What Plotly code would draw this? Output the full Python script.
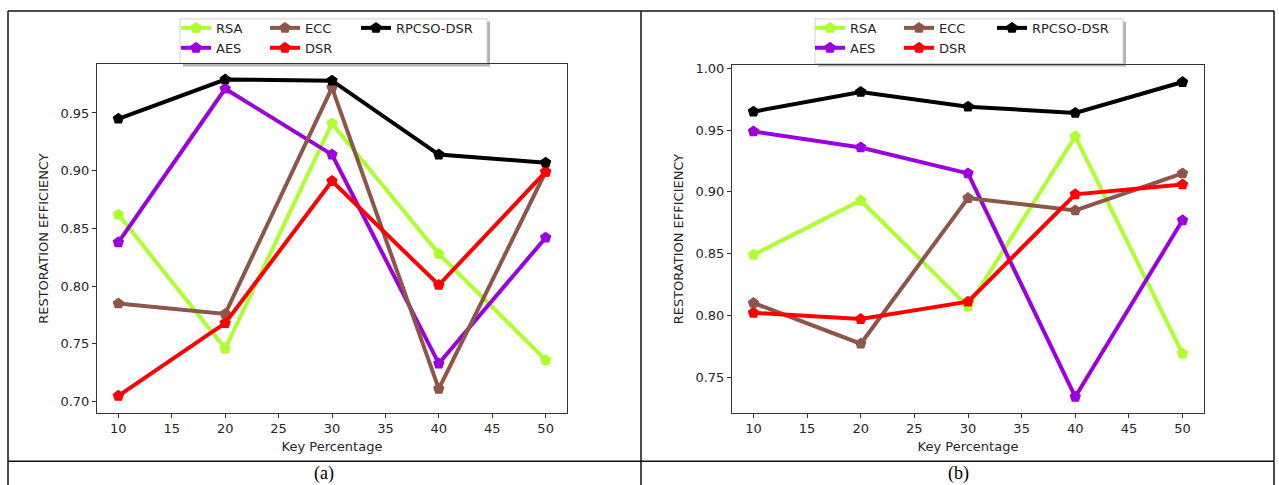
import plotly.graph_objects as go

W, H = 1279, 485

key_pct = [10, 20, 30, 40, 50]
series_names = ["RSA", "AES", "ECC", "DSR", "RPCSO-DSR"]

# Panel (a)
a_rsa = [0.862, 0.746, 0.941, 0.828, 0.736]
a_aes = [0.838, 0.971, 0.914, 0.733, 0.842]
a_ecc = [0.785, 0.776, 0.972, 0.711, 0.899]
a_dsr = [0.705, 0.768, 0.891, 0.801, 0.899]
a_rpcso = [0.945, 0.979, 0.978, 0.914, 0.907]

# Panel (b)
b_rsa = [0.849, 0.893, 0.807, 0.945, 0.769]
b_aes = [0.949, 0.936, 0.915, 0.734, 0.877]
b_ecc = [0.810, 0.777, 0.895, 0.885, 0.915]
b_dsr = [0.802, 0.797, 0.811, 0.898, 0.906]
b_rpcso = [0.965, 0.981, 0.969, 0.964, 0.989]

a_yticks = [0.70, 0.75, 0.80, 0.85, 0.90, 0.95]
b_yticks = [0.75, 0.80, 0.85, 0.90, 0.95, 1.00]
xticks = [10, 15, 20, 25, 30, 35, 40, 45, 50]

colors = {"RSA": "#adff2f", "AES": "#9b00dc", "ECC": "#8c564b",
          "DSR": "#ff0000", "RPCSO-DSR": "#000000"}
groups = {"RSA": 1, "AES": 1, "ECC": 2, "DSR": 2, "RPCSO-DSR": 3}

FONT = "DejaVu Sans"


def px_x(p):
    return p / W


def px_y(p):
    return 1 - p / H


fig = go.Figure()

panels = [
    ("a", "x", "y", "legend", "legend3", [a_rsa, a_aes, a_ecc, a_dsr, a_rpcso]),
    ("b", "x2", "y2", "legend2", "legend4", [b_rsa, b_aes, b_ecc, b_dsr, b_rpcso]),
]
for tag, xa, ya, leg, leg_last, data in panels:
    for name, vals in zip(series_names, data):
        fig.add_trace(go.Scatter(
            x=key_pct, y=vals, name=name, mode="lines+markers",
            line=dict(color=colors[name], width=4),
            marker=dict(symbol="pentagon", size=12, color=colors[name]),
            xaxis=xa, yaxis=ya,
            legend=leg_last if name == "RPCSO-DSR" else leg,
            legendgroup=f"{tag}{groups[name]}",
        ))

axis_common = dict(
    showline=True, linecolor="#333333", linewidth=1, mirror=True,
    ticks="outside", ticklen=4, tickcolor="#333333", showgrid=False,
    zeroline=False, tickfont=dict(family=FONT, size=13, color="#262626"),
)

legend_common = dict(
    yanchor="top", xanchor="left", orientation="h", traceorder="grouped",
    tracegroupgap=0, bgcolor="rgba(0,0,0,0)", borderwidth=0,
    font=dict(family=FONT, size=13, color="#262626"),
)
LEG_Y = px_y(9)

fig.update_layout(
    width=W, height=H, autosize=False,
    margin=dict(l=0, r=0, t=0, b=0),
    paper_bgcolor="white", plot_bgcolor="white",
    font=dict(family=FONT, size=13, color="#262626"),
    xaxis=dict(domain=[px_x(97), px_x(567)], range=[8, 52], tickvals=xticks,
               title=dict(text="Key Percentage", standoff=6,
                          font=dict(family=FONT, size=13)),
               anchor="y", **axis_common),
    yaxis=dict(domain=[px_y(412), px_y(61)], range=[0.6905, 0.992],
               tickvals=a_yticks, tickformat=".2f",
               title=dict(text="RESTORATION EFFICIENCY", standoff=8,
                          font=dict(family=FONT, size=13)),
               anchor="x", **axis_common),
    xaxis2=dict(domain=[px_x(732), px_x(1204)], range=[8, 52], tickvals=xticks,
                title=dict(text="Key Percentage", standoff=6,
                           font=dict(family=FONT, size=13)),
                anchor="y2", **axis_common),
    yaxis2=dict(domain=[px_y(412), px_y(62)], range=[0.7212, 1.0024],
                tickvals=b_yticks, tickformat=".2f",
                title=dict(text="RESTORATION EFFICIENCY", standoff=8,
                           font=dict(family=FONT, size=13)),
                anchor="x2", **axis_common),
    legend=dict(x=px_x(176), y=LEG_Y, entrywidth=44, entrywidthmode="pixels",
                **legend_common),
    legend3=dict(x=px_x(356), y=LEG_Y, **legend_common),
    legend2=dict(x=px_x(810), y=LEG_Y, entrywidth=44, entrywidthmode="pixels",
                 **legend_common),
    legend4=dict(x=px_x(992), y=LEG_Y, **legend_common),
    showlegend=True,
)

# legend frames with shadow
for (x0, x1) in [(180, 487), (815, 1123)]:
    fig.add_shape(type="rect", xref="paper", yref="paper",
                  x0=px_x(x0 + 3), x1=px_x(x1 + 3), y0=px_y(63), y1=px_y(18),
                  fillcolor="#b4b4b4", line=dict(width=0), layer="below")
    fig.add_shape(type="rect", xref="paper", yref="paper",
                  x0=px_x(x0), x1=px_x(x1), y0=px_y(60), y1=px_y(15),
                  fillcolor="white", line=dict(color="#d0d0d0", width=1),
                  layer="below")

# table borders
line_style = dict(color="#111111", width=1.5)
fig.add_shape(type="line", xref="paper", yref="paper", x0=px_x(8), x1=px_x(1274),
              y0=px_y(7), y1=px_y(7), line=line_style)
fig.add_shape(type="line", xref="paper", yref="paper", x0=px_x(8), x1=px_x(1274),
              y0=px_y(461), y1=px_y(461), line=line_style)
for xp in [8, 641, 1274]:
    fig.add_shape(type="line", xref="paper", yref="paper", x0=px_x(xp), x1=px_x(xp),
                  y0=px_y(7), y1=0, line=line_style)

# captions
for text, xc in [("(a)", 324), ("(b)", 958)]:
    fig.add_annotation(text=text, xref="paper", yref="paper", x=px_x(xc), y=px_y(473),
                       xanchor="center", yanchor="middle", showarrow=False,
                       font=dict(family="Liberation Serif", size=18, color="#000000"))

fig.write_html(
    "out.html",
    config={"displayModeBar": False},
    post_script="document.body.style.margin='0';document.body.style.padding='0';"
                "document.documentElement.style.overflow='hidden';",
)
